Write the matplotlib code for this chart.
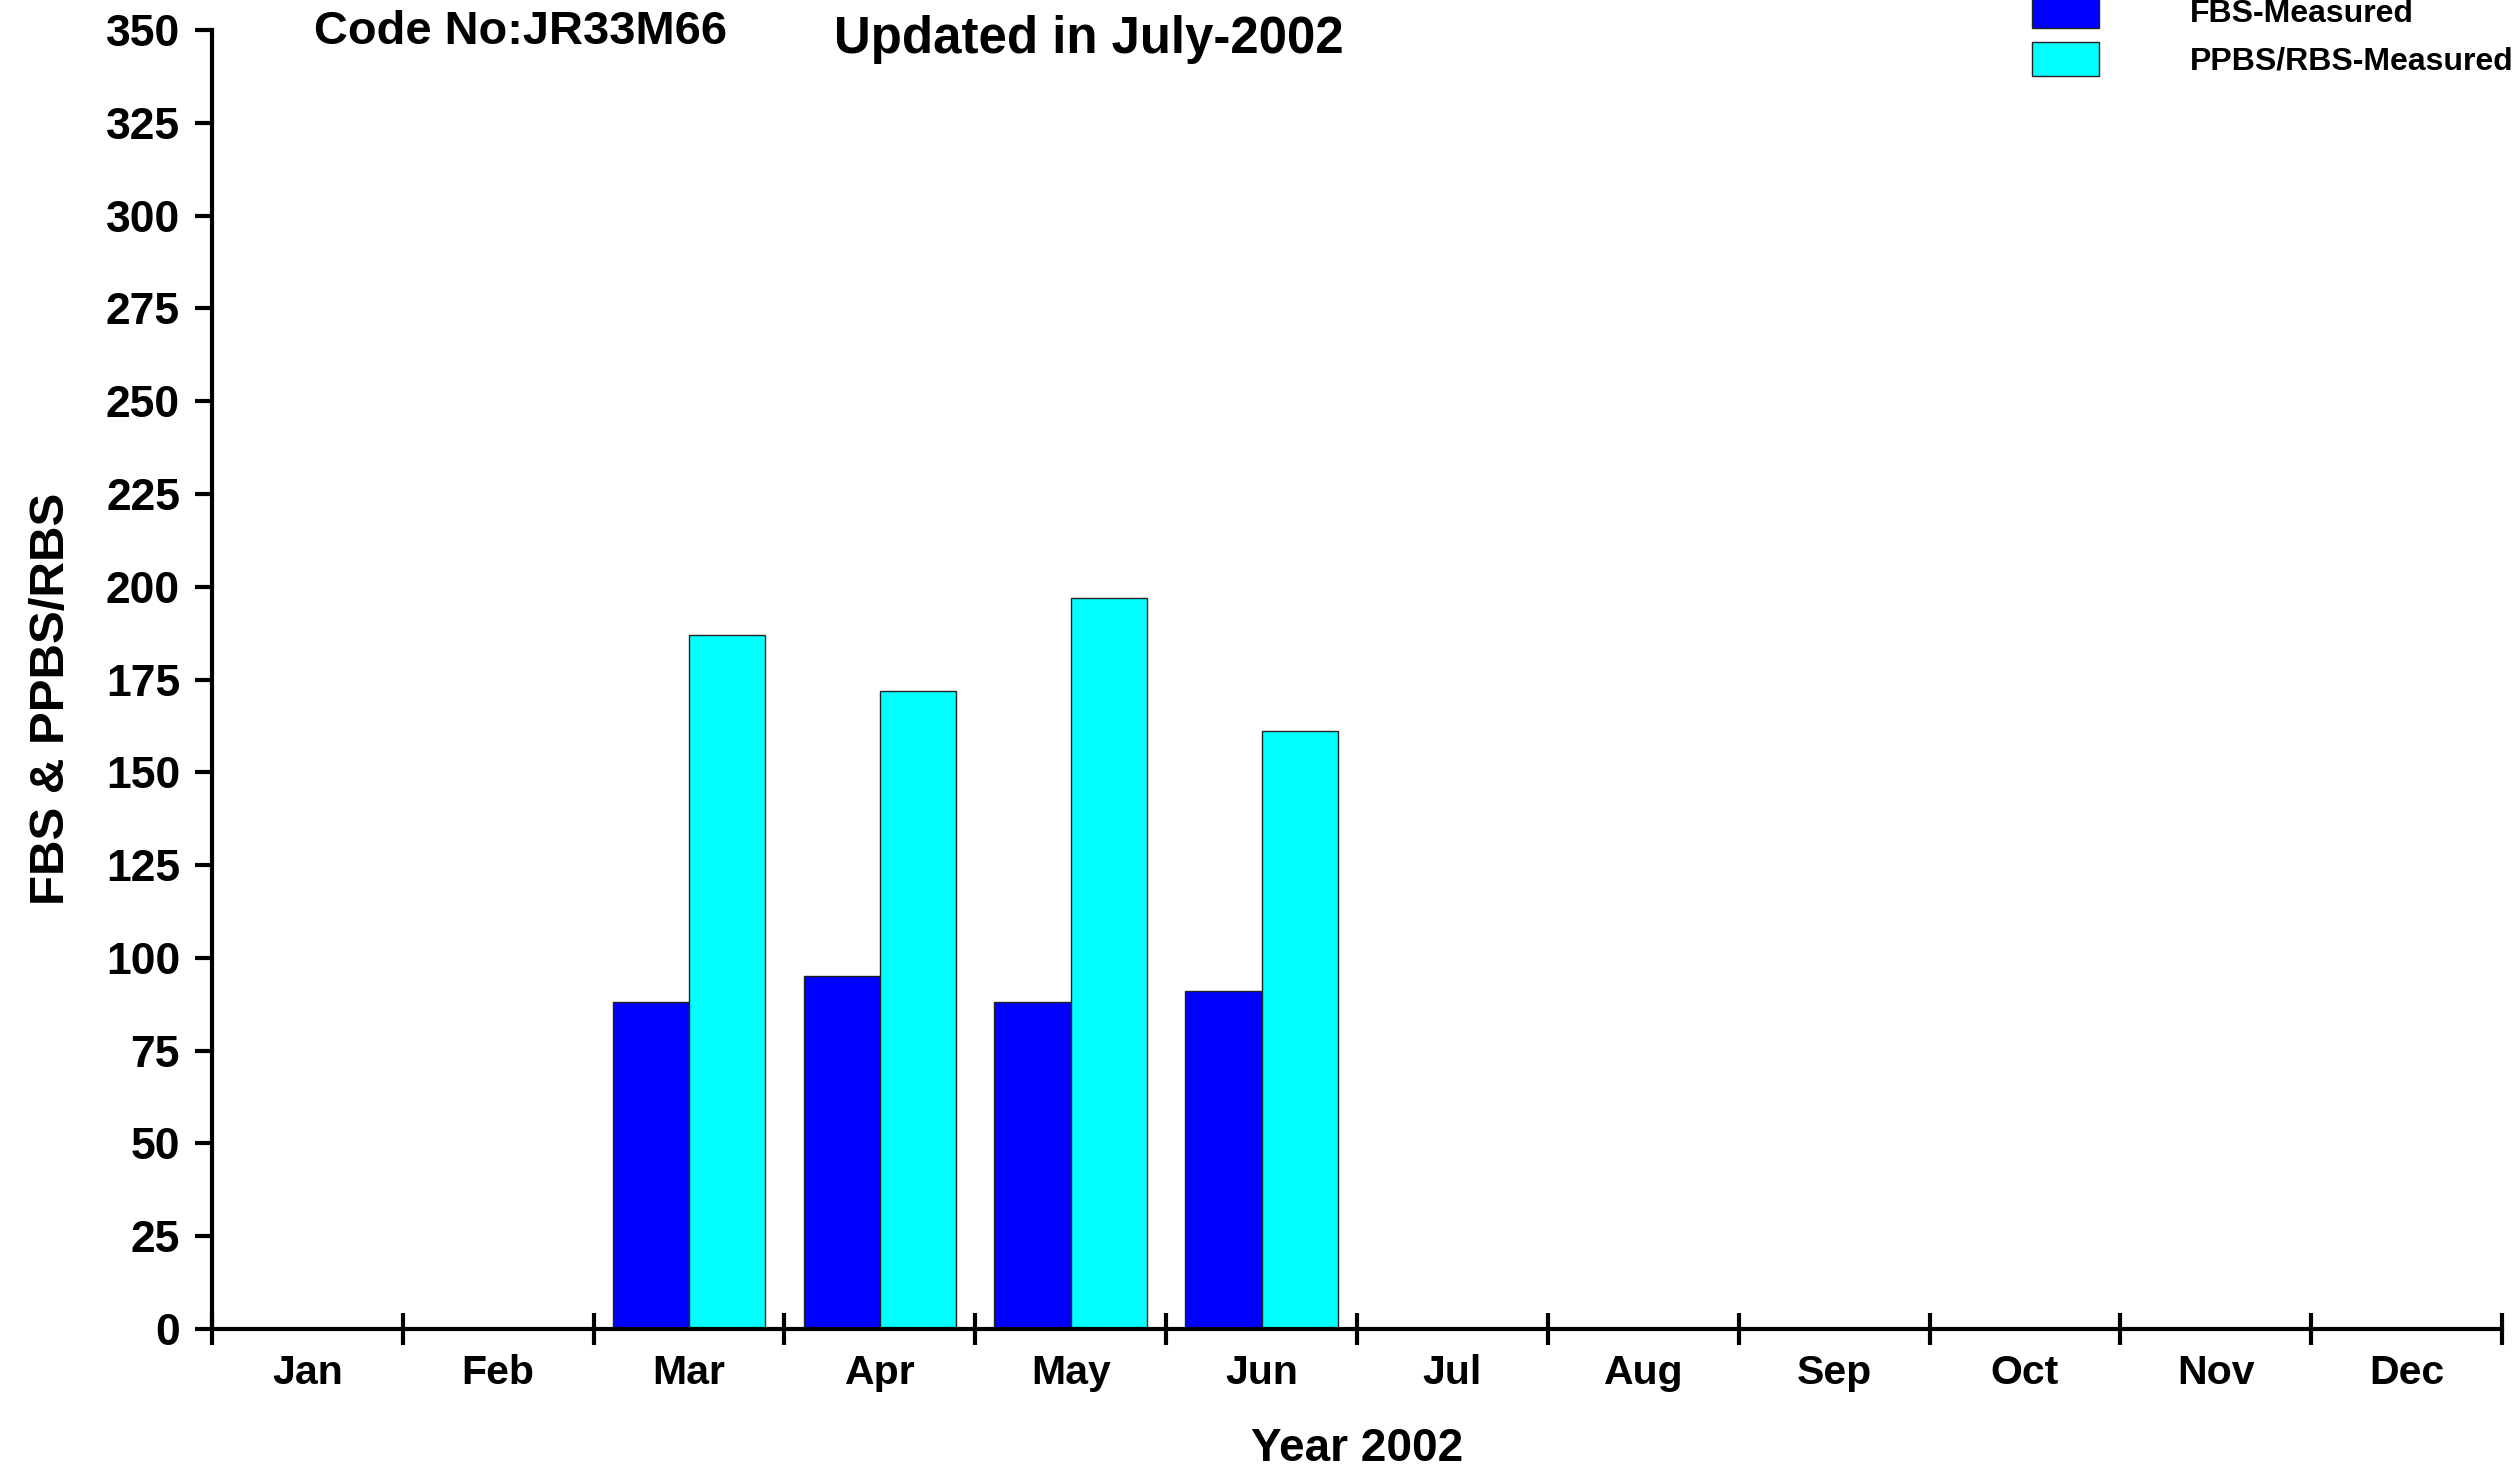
import numpy as np
import matplotlib
matplotlib.use('Agg')
import matplotlib.pyplot as plt

plt.rcParams['font.family'] = ['Liberation Sans', 'DejaVu Sans']
plt.rcParams['font.weight'] = 'bold'

# Monthly readings for 2002 (nan = not measured yet)
months = ['Jan', 'Feb', 'Mar', 'Apr', 'May', 'Jun',
          'Jul', 'Aug', 'Sep', 'Oct', 'Nov', 'Dec']
fbs = [np.nan, np.nan, 88, 95, 88, 91,
       np.nan, np.nan, np.nan, np.nan, np.nan, np.nan]
ppbs = [np.nan, np.nan, 187, 172, 197, 161,
        np.nan, np.nan, np.nan, np.nan, np.nan, np.nan]
yticks = list(range(0, 351, 25))

fig = plt.figure(figsize=(25.14, 14.75), dpi=100)
ax = fig.add_axes([212/2514, 1 - 1329/1475, 2290/2514, 1299/1475])

x = np.arange(len(months))
w = 0.4
ax.bar(x - w/2, fbs, w, color='#0000ff', edgecolor='#222222', linewidth=1,
       label='FBS-Measured')
ax.bar(x + w/2, ppbs, w, color='#00ffff', edgecolor='#222222', linewidth=1,
       label='PPBS/RBS-Measured')

ax.set_xlim(-0.5, 11.5)
ax.set_ylim(0, 350)

# month boundaries as major ticks, labels at month centres
ax.set_xticks(np.arange(-0.5, 12, 1))
ax.set_xticklabels([])
ax.set_xticks(x, minor=True)
ax.set_xticklabels(months, minor=True, fontsize=29.5, fontweight='bold')
ax.tick_params(axis='x', which='major', direction='inout', length=23, width=3)
ax.tick_params(axis='x', which='minor', length=0, pad=18)

ax.set_yticks(yticks)
ax.set_yticklabels([str(v) for v in yticks], fontsize=32, fontweight='bold')
ax.tick_params(axis='y', direction='out', length=12, width=3, pad=11)

for s in ['top', 'right']:
    ax.spines[s].set_visible(False)
for s in ['left', 'bottom']:
    ax.spines[s].set_linewidth(3)

ax.set_ylabel('FBS & PPBS/RBS', fontsize=35.5, fontweight='bold')
ax.yaxis.set_label_coords(-0.0602, 0.485)
ax.set_xlabel('Year 2002', fontsize=33, fontweight='bold')
ax.xaxis.set_label_coords(0.5, -0.0754)

fig.text(314/2514, 1 - 32/1475, 'Code No:JR33M66', fontsize=33.8,
         fontweight='bold', ha='left', va='center')
fig.text(1089/2514, 1 - 39/1475, 'Updated in July-2002', fontsize=36.7,
         fontweight='bold', ha='center', va='center')

ax.legend(loc='upper left', bbox_to_anchor=(2032/2514, 1 + 5/1475),
          bbox_transform=fig.transFigure, frameon=False,
          handlelength=2.1, handleheight=1.23, handletextpad=2.85,
          labelspacing=0.4, borderpad=0, borderaxespad=0,
          prop={'weight': 'bold', 'size': 23})

fig.savefig('out.png', dpi=100)
